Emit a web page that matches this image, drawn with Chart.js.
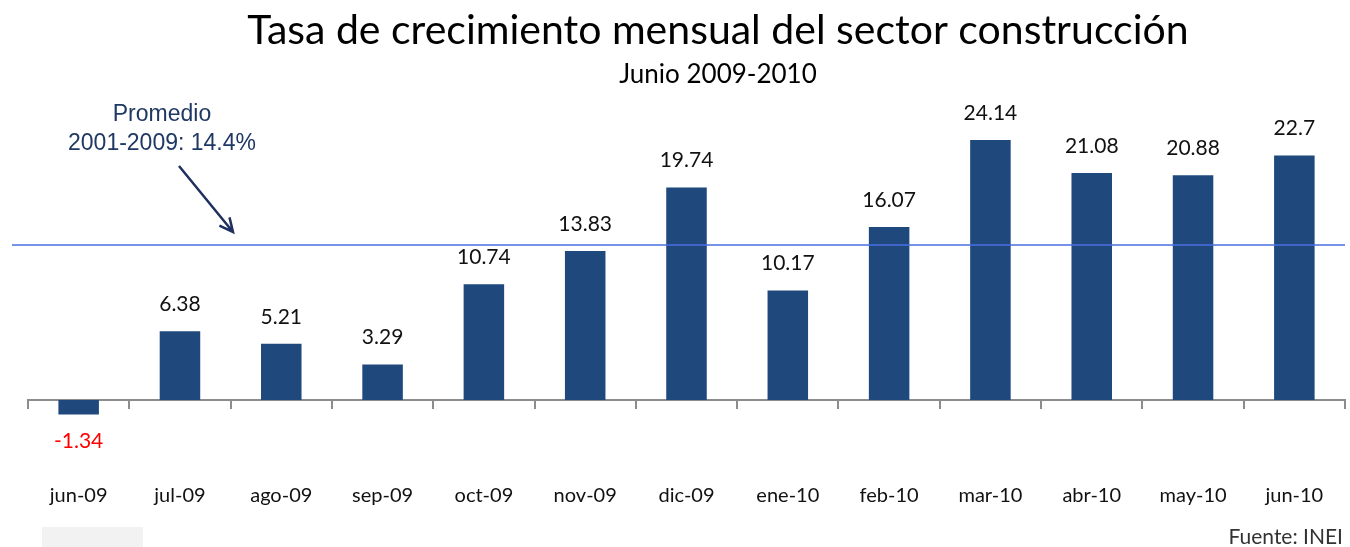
<!DOCTYPE html>
<html>
<head>
<meta charset="utf-8">
<script src="https://cdn.jsdelivr.net/npm/chart.js@4.4.0/dist/chart.umd.min.js"></script>
<style>
  html, body { margin: 0; padding: 0; background: #fff; }
  #wrap { position: relative; width: 1350px; height: 547px; }
</style>
</head>
<body>
<div id="wrap"><canvas id="BarChart"></canvas></div>
<script>
// data
var months = ["jun-09", "jul-09", "ago-09", "sep-09", "oct-09", "nov-09", "dic-09",
  "ene-10", "feb-10", "mar-10", "abr-10", "may-10", "jun-10"];
var growth = [-1.34, 6.38, 5.21, 3.29, 10.74, 13.83, 19.74, 10.17, 16.07, 24.14, 21.08, 20.88, 22.7];
var average = 14.4;

var title = "Tasa de crecimiento mensual del sector construcción";
var subtitle = "Junio 2009-2010";
var note = ["Promedio", "2001-2009: 14.4%"];
var source = "Fuente: INEI";

var bodyFont = "Lato, 'Open Sans', sans-serif";
var arialFont = "'Liberation Sans', Arial, sans-serif";

var extras = {
  id: "extras",
  afterDatasetsDraw: function(chart) {
    var ctx = chart.ctx;
    var area = chart.chartArea;
    var y = chart.scales.y;
    ctx.save();

    // average line
    var ly = y.getPixelForValue(average);
    ctx.strokeStyle = "#4A6FE0";
    ctx.lineWidth = 1.5;
    ctx.beginPath();
    ctx.moveTo(12, ly);
    ctx.lineTo(area.right, ly);
    ctx.stroke();

    // value labels
    var meta = chart.getDatasetMeta(0);
    ctx.textAlign = "center";
    ctx.textBaseline = "middle";
    meta.data.forEach(function(bar, i) {
      var v = growth[i];
      ctx.font = "21px " + bodyFont;
      if (v < 0) {
        ctx.fillStyle = "#FF0000";
        ctx.fillText(v.toString(), bar.x, bar.y + 27);
      } else {
        ctx.fillStyle = "#111";
        ctx.fillText(v.toString(), bar.x, bar.y - 27);
      }
    });

    // titles
    ctx.fillStyle = "#000";
    ctx.font = "41px " + bodyFont;
    ctx.fillText(title, 718, 31);
    ctx.font = "26px " + bodyFont;
    ctx.fillText(subtitle, 718, 75);

    // note + arrow
    ctx.fillStyle = "#1F3864";
    ctx.font = "23px " + arialFont;
    ctx.fillText(note[0], 162, 115);
    ctx.fillText(note[1], 162, 144);
    ctx.strokeStyle = "#1F2F5F";
    ctx.lineWidth = 2.5;
    var x0 = 179, y0 = 166, x1 = 233, y1 = 232;
    ctx.beginPath();
    ctx.moveTo(x0, y0);
    ctx.lineTo(x1, y1);
    var ang = Math.atan2(y1 - y0, x1 - x0);
    ctx.moveTo(x1 - 15 * Math.cos(ang - 0.45), y1 - 15 * Math.sin(ang - 0.45));
    ctx.lineTo(x1, y1);
    ctx.lineTo(x1 - 15 * Math.cos(ang + 0.45), y1 - 15 * Math.sin(ang + 0.45));
    ctx.stroke();

    // source
    ctx.fillStyle = "#333";
    ctx.textAlign = "right";
    ctx.font = "21px " + bodyFont;
    ctx.fillText(source, 1343, 537);

    // grey box bottom left
    ctx.fillStyle = "#F2F2F2";
    ctx.fillRect(42, 527, 101, 20);
    ctx.restore();
  }
};

var c = document.getElementById("BarChart");
var bar = new Chart(c, {
  type: "bar",
  data: {
    labels: months,
    datasets: [{
      data: growth,
      backgroundColor: "#1F497D",
      categoryPercentage: 1,
      barPercentage: 0.4
    }]
  },
  options: {
    responsive: true,
    maintainAspectRatio: false,
    animation: false,
    layout: { padding: { left: 28, right: 5, top: 120, bottom: 125.5 } },
    plugins: { legend: { display: false }, tooltip: { enabled: false } },
    scales: {
      y: { display: false, min: -2, max: 26 },
      x: {
        position: { y: 0 },
        offset: true,
        afterFit: function(s) { s.paddingLeft = 0; s.paddingRight = 0; },
        grid: { offset: true, drawOnChartArea: false, drawTicks: true, tickLength: 8, color: "#8C8C8C", lineWidth: 2 },
        border: { display: true, color: "#8C8C8C", width: 2 },
        ticks: { color: "#111", padding: 76, font: { family: bodyFont, size: 20 } }
      }
    }
  },
  plugins: [extras]
});
</script>
</body>
</html>
